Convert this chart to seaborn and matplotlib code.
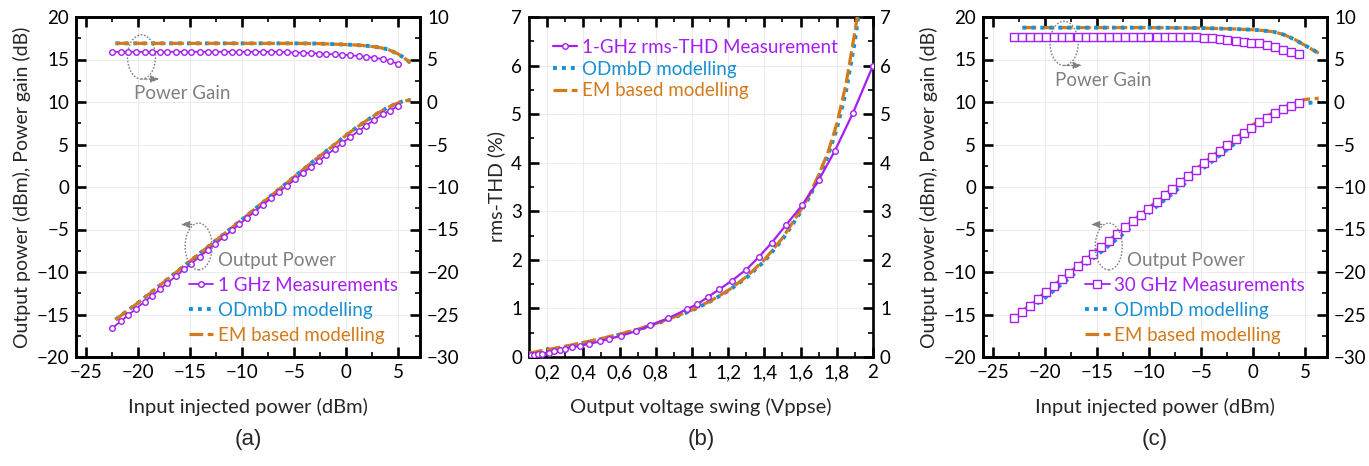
import numpy as np
import matplotlib
matplotlib.use("Agg")
import matplotlib.pyplot as plt
from matplotlib.patches import Ellipse
import seaborn as sns

# ---- colours
PURPLE = "#A51FF2"
BLUE = "#1A90D0"
ORANGE = "#D37A1C"
GREY = "#808080"

# ---- (a) 1 GHz
pin_a_meas = [-22.5, -21.7, -21.0, -20.2, -19.4, -18.7, -17.9, -17.2, -16.4, -15.6,
              -14.9, -14.1, -13.3, -12.6, -11.8, -11.0, -10.3, -9.5, -8.8, -8.0,
              -7.2, -6.5, -5.7, -4.9, -4.2, -3.4, -2.6, -1.9, -1.1, -0.4,
              0.4, 1.2, 1.9, 2.7, 3.5, 4.2, 5.0]
pout_a_meas = [-16.6, -15.8, -15.1, -14.3, -13.5, -12.8, -12.0, -11.3, -10.5, -9.7,
               -9.0, -8.2, -7.4, -6.7, -5.9, -5.1, -4.4, -3.6, -2.9, -2.1,
               -1.3, -0.6, 0.15, 0.9, 1.6, 2.35, 3.1, 3.75, 4.5, 5.15,
               5.9, 6.6, 7.2, 7.9, 8.55, 9.0, 9.5]
gain_a_meas = [5.9, 5.9, 5.9, 5.9, 5.9, 5.9, 5.9, 5.9, 5.9, 5.9,
               5.9, 5.9, 5.9, 5.9, 5.9, 5.9, 5.9, 5.9, 5.9, 5.9,
               5.9, 5.9, 5.85, 5.8, 5.8, 5.75, 5.7, 5.65, 5.6, 5.55,
               5.5, 5.4, 5.3, 5.2, 5.05, 4.8, 4.5]
pin_a_model = [-22.2, -20, -15, -10, -5, -3, -1, 0, 1, 2, 3, 4, 5, 5.5, 6.2]
pout_a_em = [-15.6, -13.6, -8.7, -3.8, 1.2, 3.2, 5.1, 6.1, 7.0, 7.85, 8.65, 9.35, 9.9, 10.1, 10.25]
pout_a_od = [-15.6, -13.6, -8.7, -3.8, 1.2, 3.2, 5.1, 6.1, 7.0, 7.85, 8.65, 9.35, 9.9, 10.1, 10.25]
gain_a_em = [6.9, 6.9, 6.9, 6.9, 6.9, 6.88, 6.8, 6.75, 6.7, 6.6, 6.45, 6.2, 5.65, 5.25, 4.6]
gain_a_od = [6.9, 6.9, 6.9, 6.9, 6.9, 6.88, 6.8, 6.75, 6.7, 6.6, 6.45, 6.2, 5.65, 5.25, 4.6]

# ---- (b) rms-THD
vsw_b_meas = [0.11, 0.13, 0.15, 0.17, 0.21, 0.24, 0.27, 0.30, 0.34, 0.38, 0.43, 0.49, 0.54,
              0.61, 0.69, 0.77, 0.87, 0.97, 1.03, 1.09, 1.15, 1.22, 1.30, 1.37, 1.44,
              1.52, 1.61, 1.70, 1.79, 1.89, 2.0]
thd_b_meas = [0.04, 0.05, 0.06, 0.07, 0.09, 0.12, 0.15, 0.17, 0.20, 0.23, 0.27, 0.32, 0.37,
              0.44, 0.53, 0.65, 0.80, 0.98, 1.09, 1.24, 1.39, 1.57, 1.80, 2.06, 2.35,
              2.72, 3.13, 3.64, 4.25, 5.03, 6.0]
vsw_b_model = [0.1, 0.2, 0.3, 0.4, 0.5, 0.6, 0.7, 0.8, 0.9, 1.0, 1.1, 1.2, 1.3, 1.4, 1.5,
               1.6, 1.65, 1.7, 1.75, 1.8, 1.85, 1.9, 1.93]
thd_b_em = [0.08, 0.15, 0.22, 0.30, 0.38, 0.47, 0.57, 0.69, 0.82, 0.97, 1.15, 1.37, 1.65,
            2.0, 2.45, 3.02, 3.35, 3.75, 4.2, 4.8, 5.6, 6.7, 7.4]
thd_b_od = [0.07, 0.14, 0.21, 0.29, 0.37, 0.46, 0.56, 0.68, 0.81, 0.96, 1.14, 1.36, 1.63,
            1.97, 2.42, 2.98, 3.3, 3.7, 4.13, 4.7, 5.45, 6.5, 7.3]

# ---- (c) 30 GHz
pin_c_meas = [-23.0, -22.2, -21.5, -20.7, -19.9, -19.2, -18.4, -17.7, -16.9, -16.1,
              -15.4, -14.6, -13.9, -13.1, -12.3, -11.6, -10.8, -10.1, -9.3, -8.5,
              -7.8, -7.0, -6.3, -5.5, -4.7, -4.0, -3.2, -2.5, -1.7, -0.9,
              -0.2, 0.6, 1.3, 2.1, 2.9, 3.6, 4.4]
pout_c_meas = [-15.4, -14.65, -13.95, -13.15, -12.35, -11.65, -10.85, -10.15, -9.35, -8.55,
               -7.85, -7.05, -6.35, -5.55, -4.75, -4.05, -3.25, -2.55, -1.75, -0.95,
               -0.25, 0.55, 1.25, 2.05, 2.8, 3.5, 4.25, 4.9, 5.65, 6.35,
               7.0, 7.65, 8.15, 8.7, 9.15, 9.5, 9.85]
gain_c_meas = [7.7, 7.7, 7.7, 7.7, 7.7, 7.7, 7.7, 7.7, 7.7, 7.7,
               7.7, 7.7, 7.7, 7.7, 7.7, 7.7, 7.7, 7.7, 7.7, 7.7,
               7.7, 7.7, 7.65, 7.6, 7.55, 7.5, 7.4, 7.3, 7.2, 7.1,
               7.0, 6.9, 6.7, 6.45, 6.15, 5.85, 5.6]
pin_c_model = [-22.2, -20, -15, -10, -5, -2, 0, 1, 2, 3, 4, 5, 6.3]
pout_c_em = [-14.6, -12.4, -7.4, -2.4, 2.6, 5.5, 7.35, 8.1, 8.8, 9.4, 9.95, 10.3, 10.45]
pout_c_od = [-15.0, -13.0, -8.0, -3.0, 2.0, 4.9, 6.8, 7.6, 8.35, 9.0, 9.5, 9.85, 10.0]
gain_c_em = [8.75, 8.75, 8.75, 8.75, 8.7, 8.6, 8.5, 8.4, 8.25, 7.9, 7.35, 6.65, 5.75]
gain_c_od = [8.75, 8.75, 8.75, 8.75, 8.7, 8.6, 8.5, 8.4, 8.25, 7.9, 7.35, 6.65, 5.75]

x_ticks_b = [0.2, 0.4, 0.6, 0.8, 1.0, 1.2, 1.4, 1.6, 1.8, 2.0]
x_labels_b = ["0,2", "0,4", "0,6", "0,8", "1", "1,2", "1,4", "1,6", "1,8", "2"]

sns.set_style("ticks")
plt.rcParams["font.family"] = ["Lato", "DejaVu Sans"]
plt.rcParams["axes.linewidth"] = 1.9
plt.rcParams["xtick.major.width"] = 1.9
plt.rcParams["ytick.major.width"] = 1.9
plt.rcParams["xtick.minor.width"] = 1.2
plt.rcParams["ytick.minor.width"] = 1.2

fig = plt.figure(figsize=(13.69, 4.66), dpi=100)
W, H = 344 / 1369, 340 / 466
B = 1 - 357 / 466
ax_a = fig.add_axes([76 / 1369, B, W, H])
ax_b = fig.add_axes([529 / 1369, B, W, H])
ax_c = fig.add_axes([983 / 1369, B, W, H])

LW_M = 1.3
LW_EM = 2.3
DASH = (0, (4.3, 1.4))
DOT = (0, (1.0, 1.3))
TICK_FS = 13.5
LAB_FS = 14.5
LEG_FS = 13.5


def style_axes(ax, right=True):
    ax.grid(True, which="major", color="#E8E8E8", lw=0.6)
    ax.tick_params(which="both", direction="in", top=True, right=right,
                   labelsize=TICK_FS, colors="black", pad=5)
    ax.tick_params(which="major", length=7)
    ax.tick_params(which="minor", length=3.5)
    for s in ax.spines.values():
        s.set_visible(True)
        s.set_color("black")


def power_panel(ax, pin_m, pout_m, gain_m, pin_mod, pout_em, pout_od, gain_em, gain_od,
                marker, meas_label, od_on_top):
    ax2 = ax.twinx()
    ax.set_zorder(1)
    ax2.set_zorder(2)
    ax.patch.set_visible(True)
    ax2.patch.set_visible(False)
    mk = dict(marker=marker, markersize=4 if marker == "o" else 5.5, markerfacecolor="white",
              markeredgecolor=PURPLE, markeredgewidth=1.0)
    z_od, z_em = (4, 3) if od_on_top else (3, 4)
    sns.lineplot(x=pin_mod, y=pout_od, ax=ax, color=BLUE, lw=2.8, linestyle=DOT,
                 label="ODmbD modelling", zorder=z_od)
    sns.lineplot(x=pin_mod, y=pout_em, ax=ax, color=ORANGE, lw=LW_EM, linestyle=DASH,
                 label="EM based modelling", zorder=z_em)
    sns.lineplot(x=pin_m, y=pout_m, ax=ax, color=PURPLE, lw=LW_M, label=meas_label,
                 zorder=5, **mk)
    sns.lineplot(x=pin_mod, y=gain_od, ax=ax2, color=BLUE, lw=2.8, linestyle=DOT, zorder=z_od)
    sns.lineplot(x=pin_mod, y=gain_em, ax=ax2, color=ORANGE, lw=LW_EM, linestyle=DASH, zorder=z_em)
    sns.lineplot(x=pin_m, y=gain_m, ax=ax2, color=PURPLE, lw=LW_M, zorder=5, **mk)

    ax.set_xlim(-26, 7.1)
    ax.set_ylim(-20, 20)
    ax2.set_ylim(-30, 10)
    ax.set_xticks(np.arange(-25, 6, 5))
    ax.set_xticks(np.arange(-25, 7, 2.5), minor=True)
    ax.set_yticks(np.arange(-20, 21, 5))
    ax.set_yticks(np.arange(-20, 21, 2.5), minor=True)
    ax2.set_yticks(np.arange(-30, 11, 5))
    ax2.set_yticks(np.arange(-30, 11, 2.5), minor=True)
    style_axes(ax, right=False)
    style_axes(ax2)
    ax2.tick_params(which="both", top=False, left=False)
    ax2.grid(False)
    ax.set_xlabel("Input injected power (dBm)", fontsize=LAB_FS, labelpad=12)
    ax.set_ylabel("Output power (dBm), Power gain (dB)", fontsize=14, labelpad=4)
    ax2.set_ylabel("")

    h, l = ax.get_legend_handles_labels()
    if ax.get_legend():
        ax.get_legend().remove()
    if ax2.get_legend():
        ax2.get_legend().remove()
    order = [2, 0, 1]
    ax2.legend([h[i] for i in order], [l[i] for i in order], loc="lower right",
               bbox_to_anchor=(0.985, -0.01), frameon=False, fontsize=LEG_FS,
               handlelength=1.3, handletextpad=0.25, labelspacing=0.42,
               labelcolor=[PURPLE, BLUE, ORANGE])
    return ax2


def annotate_power(ax, gain_c, gain_txt, out_c, out_txt):
    ec = dict(fill=False, ls=(0, (1.2, 1.2)), ec=GREY, lw=1.0, zorder=6)
    ax.add_patch(Ellipse(gain_c, 2.7, 5.2, **ec))
    gx, gy = gain_c[0], gain_c[1] - 2.6
    ax.annotate("", xy=(gx + 2.0, gy), xytext=(gx, gy),
                arrowprops=dict(arrowstyle="-|>,head_length=0.5,head_width=0.2",
                                color=GREY, lw=1.0, ls=(0, (2, 1.5))), zorder=6)
    ax.text(gain_txt[0], gain_txt[1], "Power Gain", color=GREY, fontsize=LEG_FS,
            ha="left", va="center", zorder=6)
    ax.add_patch(Ellipse(out_c, 2.6, 5.5, **ec))
    ox, oy = out_c[0] - 0.4, out_c[1] + 2.6
    ax.annotate("", xy=(ox - 1.6, oy), xytext=(ox, oy),
                arrowprops=dict(arrowstyle="-|>,head_length=0.5,head_width=0.2",
                                color=GREY, lw=1.0, ls=(0, (2, 1.5))), zorder=6)
    ax.text(out_txt[0], out_txt[1], "Output Power", color=GREY, fontsize=LEG_FS,
            ha="left", va="center", zorder=6)


# (a)
power_panel(ax_a, pin_a_meas, pout_a_meas, gain_a_meas, pin_a_model, pout_a_em, pout_a_od,
            gain_a_em, gain_a_od, "o", "1 GHz Measurements", od_on_top=False)
annotate_power(ax_a, (-19.7, 15.3), (-20.4, 11.0), (-14.2, -7.0), (-12.3, -8.6))

# (c)
power_panel(ax_c, pin_c_meas, pout_c_meas, gain_c_meas, pin_c_model, pout_c_em, pout_c_od,
            gain_c_em, gain_c_od, "s", "30 GHz Measurements", od_on_top=True)
annotate_power(ax_c, (-18.2, 16.9), (-19.1, 12.5), (-13.9, -7.0), (-12.1, -8.6))

# (b)
sns.lineplot(x=vsw_b_model, y=thd_b_od, ax=ax_b, color=BLUE, lw=2.8, linestyle=DOT,
             label="ODmbD modelling", zorder=3)
sns.lineplot(x=vsw_b_model, y=thd_b_em, ax=ax_b, color=ORANGE, lw=LW_EM, linestyle=DASH,
             label="EM based modelling", zorder=4)
sns.lineplot(x=vsw_b_meas, y=thd_b_meas, ax=ax_b, color=PURPLE, lw=LW_M + 0.3, marker="o",
             markersize=4, markerfacecolor="white", markeredgecolor=PURPLE,
             markeredgewidth=1.0, label="1-GHz rms-THD Measurement", zorder=5)
ax_b.set_xlim(0.1, 2.0)
ax_b.set_ylim(0, 7)
ax_b.set_xticks(x_ticks_b)
ax_b.set_xticklabels(x_labels_b)
ax_b.set_xticks(np.arange(0.1, 2.01, 0.1), minor=True)
ax_b.set_yticks(np.arange(0, 8, 1))
ax_b.set_yticks(np.arange(0, 7.01, 0.5), minor=True)
style_axes(ax_b)
ax_b.tick_params(labelright=True)
ax_b.set_xlabel("Output voltage swing (Vppse)", fontsize=LAB_FS, labelpad=12)
ax_b.set_ylabel("rms-THD (%)", fontsize=14, labelpad=4)
h, l = ax_b.get_legend_handles_labels()
ax_b.get_legend().remove()
order = [2, 0, 1]
ax_b.legend([h[i] for i in order], [l[i] for i in order], loc="upper left",
            bbox_to_anchor=(0.02, 0.985), frameon=False, fontsize=LEG_FS,
            handlelength=1.3, handletextpad=0.25, labelspacing=0.25,
            labelcolor=[PURPLE, BLUE, ORANGE])

for ax, lab in [(ax_a, "(a)"), (ax_b, "(b)"), (ax_c, "(c)")]:
    pos = ax.get_position()
    fig.text(pos.x0 + pos.width / 2, 1 - 440 / 466, lab, ha="center", va="center",
             fontsize=16, family=["Liberation Sans", "DejaVu Sans"])

fig.savefig("out.png", dpi=100)
